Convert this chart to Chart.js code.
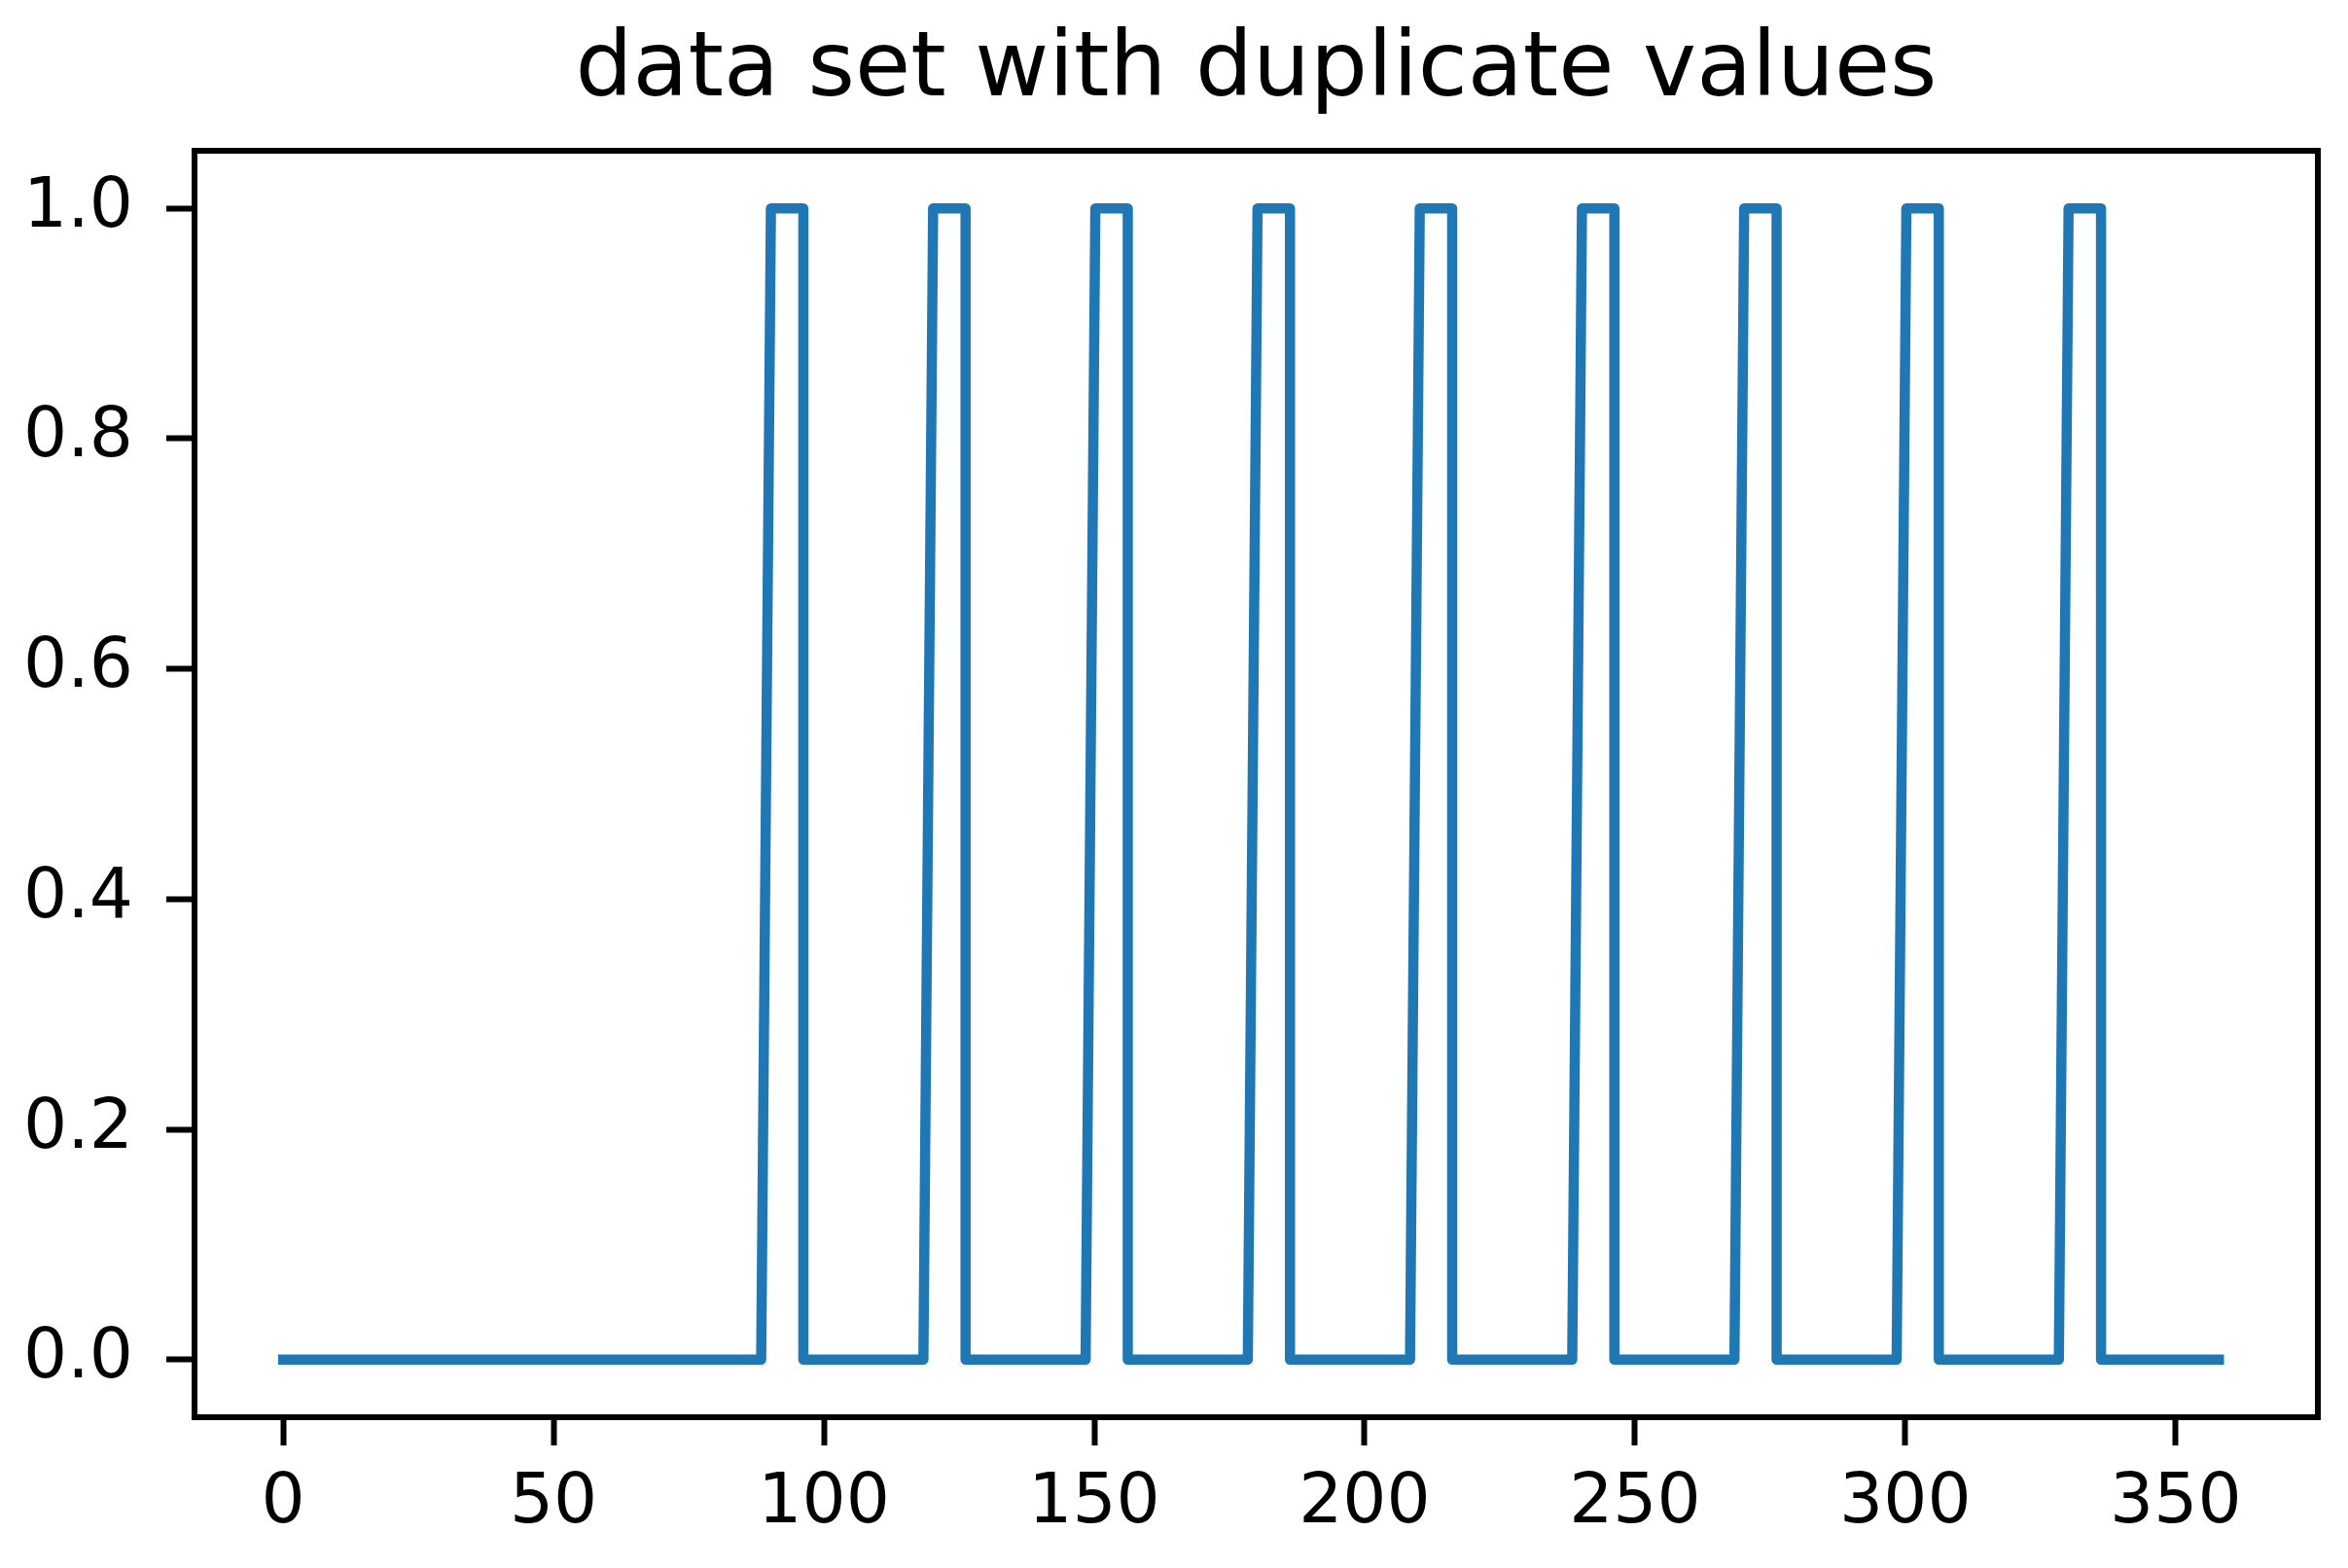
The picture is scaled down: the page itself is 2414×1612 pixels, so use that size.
<!DOCTYPE html>
<html>
<head>
<meta charset="utf-8">
<title>data set with duplicate values</title>
<script src="https://cdn.jsdelivr.net/npm/chart.js@4.4.0/dist/chart.umd.min.js"></script>
<style>
    html, body { margin: 0; padding: 0; background: #ffffff; }
    canvas { display: block; }
</style>
</head>
<body>
<canvas id="dupChart" width="2414" height="1612"></canvas>
<script>
// values
const chartTitle = 'data set with duplicate values';

const xValues = [0,
    88.4, 90.2, 96.2, 96.2,
    118.4, 120.2, 126.2, 126.2,
    148.4, 150.2, 156.2, 156.2,
    178.4, 180.2, 186.2, 186.2,
    208.4, 210.2, 216.2, 216.2,
    238.4, 240.2, 246.2, 246.2,
    268.4, 270.2, 276.2, 276.2,
    298.4, 300.2, 306.2, 306.2,
    328.4, 330.2, 336.2, 336.2,
    358];
const yValues = [0,
    0, 1, 1, 0,
    0, 1, 1, 0,
    0, 1, 1, 0,
    0, 1, 1, 0,
    0, 1, 1, 0,
    0, 1, 1, 0,
    0, 1, 1, 0,
    0, 1, 1, 0,
    0, 1, 1, 0,
    0];

const xTicks = [0, 50, 100, 150, 200, 250, 300, 350];
const yTicks = [0, 0.2, 0.4, 0.6, 0.8, 1.0];

const FONT = "'DejaVu Sans', sans-serif";

// draw the box around the plot area (matplotlib style spines)
const frame = {
    id: 'frame',
    afterDatasetsDraw(chart) {
        const a = chart.chartArea;
        const ctx = chart.ctx;
        ctx.save();
        ctx.strokeStyle = '#000000';
        ctx.lineWidth = 6;
        ctx.lineJoin = 'miter';
        ctx.strokeRect(a.left, a.top, a.right - a.left, a.bottom - a.top);
        ctx.restore();
    }
};

function init() {
    const ctx = document.getElementById('dupChart').getContext('2d');
    const points = xValues.map((x, i) => ({ x: x, y: yValues[i] }));

    new Chart(ctx, {
        type: 'line',
        data: {
            datasets: [{
                data: points,
                borderColor: '#1f77b4',
                borderWidth: 10.5,
                borderJoinStyle: 'round',
                borderCapStyle: 'square',
                pointRadius: 0,
                fill: false,
                tension: 0
            }]
        },
        options: {
            responsive: false,
            animation: false,
            devicePixelRatio: 1,
            layout: {
                padding: { left: 0, right: 31, top: 0, bottom: 0 }
            },
            plugins: {
                legend: { display: false },
                tooltip: { enabled: false },
                title: {
                    display: true,
                    fullSize: false, // centre over the plot area, like matplotlib
                    text: chartTitle,
                    color: '#000000',
                    font: { family: FONT, size: 93, weight: 'normal', lineHeight: 1.2 },
                    padding: { top: 18, bottom: 25.4 }
                }
            },
            scales: {
                x: {
                    type: 'linear',
                    min: -16.4,
                    max: 376.3,
                    afterBuildTicks: function(scale) {
                        scale.ticks = xTicks.map(v => ({ value: v }));
                    },
                    afterFit: function(scale) {
                        scale.height = 155;
                    },
                    border: { display: false },
                    grid: {
                        display: true,
                        drawOnChartArea: false,
                        drawTicks: true,
                        tickLength: 29,
                        tickWidth: 6,
                        tickColor: '#000000'
                    },
                    ticks: {
                        color: '#000000',
                        padding: 18,
                        maxRotation: 0,
                        autoSkip: false,
                        font: { family: FONT, size: 71 },
                        callback: function(value) { return String(value); }
                    }
                },
                y: {
                    type: 'linear',
                    min: -0.05,
                    max: 1.05,
                    afterBuildTicks: function(scale) {
                        scale.ticks = yTicks.map(v => ({ value: v }));
                    },
                    afterFit: function(scale) {
                        scale.width = 200;
                    },
                    border: { display: false },
                    grid: {
                        display: true,
                        drawOnChartArea: false,
                        drawTicks: true,
                        tickLength: 29,
                        tickWidth: 6,
                        tickColor: '#000000'
                    },
                    ticks: {
                        color: '#000000',
                        padding: 34,
                        autoSkip: false,
                        font: { family: FONT, size: 71 },
                        callback: function(value) { return Number(value).toFixed(1); }
                    }
                }
            }
        },
        plugins: [frame]
    });
}

document.addEventListener('DOMContentLoaded', init);
</script>
</body>
</html>
